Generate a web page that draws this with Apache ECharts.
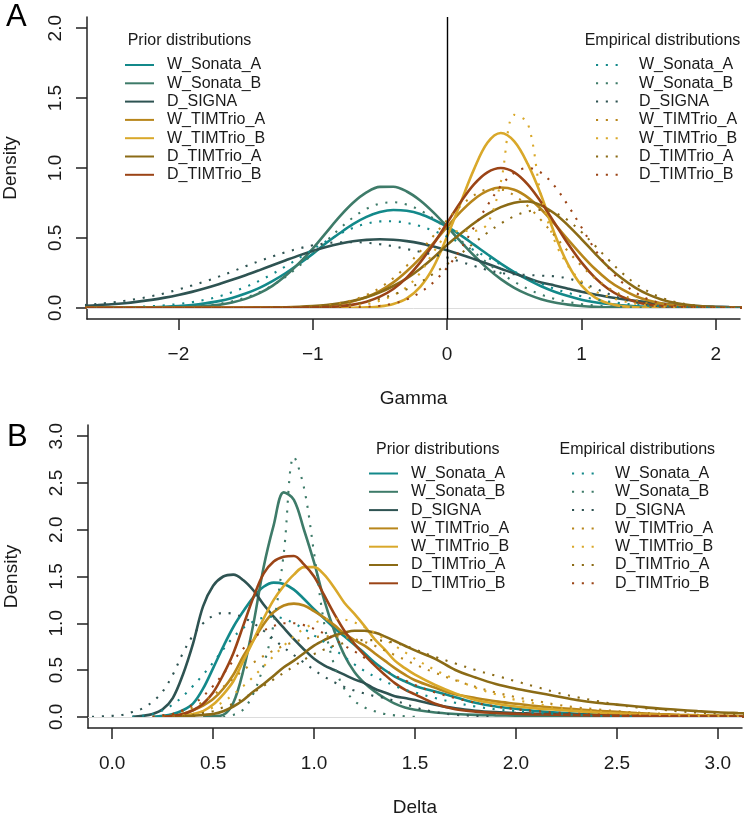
<!DOCTYPE html>
<html>
<head>
<meta charset="utf-8">
<title>Prior and empirical distributions</title>
<script src="https://cdn.jsdelivr.net/npm/echarts@6/dist/echarts.min.js"></script>
<style>
  html, body { margin: 0; padding: 0; background: #fff; }
  #main { width: 744px; height: 815px; }
</style>
</head>
<body>
<div id="main"></div>
<script>
// ---- data ----
var groups = ['W_Sonata_A', 'W_Sonata_B', 'D_SIGNA', 'W_TIMTrio_A', 'W_TIMTrio_B', 'D_TIMTrio_A', 'D_TIMTrio_B'];
var groupColors = ['#13898a', '#3e7b69', '#2e5352', '#b8861b', '#d9a82a', '#8b6b16', '#9b4416'];

var gammaTicks = [-2, -1, 0, 1, 2];
var gammaDensityTicks = [0, 0.5, 1, 1.5, 2];
var deltaTicks = [0, 0.5, 1, 1.5, 2, 2.5, 3];
var deltaDensityTicks = [0, 0.5, 1, 1.5, 2, 2.5, 3];

// panel A, Gamma grid
var gammaX = [-2.7, -2.6, -2.5, -2.4, -2.3, -2.2, -2.1, -2.0, -1.9, -1.8, -1.7,
  -1.6, -1.5, -1.4, -1.3, -1.2, -1.1, -1.0, -0.9, -0.8, -0.7,
  -0.6, -0.5, -0.4, -0.3, -0.2, -0.1, 0, 0.1, 0.2, 0.3,
  0.4, 0.5, 0.6, 0.7, 0.8, 0.9, 1.0, 1.1, 1.2, 1.3,
  1.4, 1.5, 1.6, 1.7, 1.8, 1.9, 2.0, 2.1, 2.2];

var gammaPrior = {
  W_Sonata_A: [0, 0.001, 0.001, 0.001, 0.002, 0.004, 0.007, 0.012, 0.020, 0.032, 0.048,
    0.071, 0.102, 0.141, 0.191, 0.249, 0.316, 0.386, 0.463, 0.533, 0.598,
    0.650, 0.685, 0.700, 0.694, 0.671, 0.630, 0.580, 0.520, 0.452, 0.383,
    0.316, 0.255, 0.201, 0.154, 0.115, 0.084, 0.058, 0.040, 0.027, 0.018,
    0.011, 0.007, 0.005, 0.003, 0.002, 0.001, 0.001, 0, 0],
  W_Sonata_B: [0, 0, 0, 0, 0, 0.001, 0.002, 0.003, 0.006, 0.012, 0.021,
    0.038, 0.064, 0.103, 0.157, 0.231, 0.322, 0.424, 0.538, 0.652, 0.751,
    0.825, 0.865, 0.866, 0.832, 0.768, 0.681, 0.580, 0.475, 0.374, 0.282,
    0.205, 0.143, 0.096, 0.062, 0.038, 0.023, 0.013, 0.007, 0.004, 0.002,
    0.001, 0, 0, 0, 0, 0, 0, 0, 0],
  D_SIGNA: [0.014, 0.019, 0.025, 0.033, 0.044, 0.057, 0.073, 0.092, 0.114, 0.140, 0.169,
    0.200, 0.233, 0.268, 0.304, 0.340, 0.375, 0.407, 0.435, 0.458, 0.476,
    0.486, 0.490, 0.487, 0.477, 0.461, 0.438, 0.412, 0.382, 0.349, 0.315,
    0.280, 0.245, 0.213, 0.181, 0.160, 0.137, 0.115, 0.095, 0.078, 0.063,
    0.050, 0.039, 0.030, 0.022, 0.016, 0.011, 0.008, 0.005, 0.003],
  W_TIMTrio_A: [0, 0, 0, 0, 0, 0, 0, 0, 0, 0, 0,
    0, 0, 0, 0, 0.002, 0.004, 0.008, 0.015, 0.027, 0.047,
    0.077, 0.121, 0.182, 0.262, 0.356, 0.465, 0.578, 0.686, 0.775, 0.836,
    0.860, 0.844, 0.790, 0.705, 0.600, 0.488, 0.379, 0.279, 0.196, 0.133,
    0.085, 0.052, 0.030, 0.017, 0.009, 0.005, 0.002, 0.001, 0],
  W_TIMTrio_B: [0, 0, 0, 0, 0, 0, 0, 0, 0, 0, 0,
    0, 0, 0, 0, 0, 0, 0, 0, 0, 0.001,
    0.003, 0.010, 0.028, 0.068, 0.150, 0.295, 0.510, 0.750, 0.990, 1.180,
    1.250, 1.190, 1.029, 0.805, 0.530, 0.310, 0.160, 0.075, 0.032, 0.012,
    0.004, 0.001, 0, 0, 0, 0, 0, 0, 0],
  D_TIMTrio_A: [0, 0, 0, 0, 0, 0, 0, 0, 0, 0, 0,
    0.001, 0.001, 0.002, 0.003, 0.004, 0.007, 0.012, 0.020, 0.033, 0.050,
    0.075, 0.111, 0.156, 0.211, 0.280, 0.360, 0.450, 0.530, 0.605, 0.670,
    0.720, 0.752, 0.760, 0.733, 0.674, 0.590, 0.492, 0.390, 0.293, 0.211,
    0.145, 0.094, 0.058, 0.034, 0.019, 0.010, 0.005, 0.002, 0.001],
  D_TIMTrio_B: [0, 0, 0, 0, 0, 0, 0, 0, 0, 0, 0,
    0, 0, 0, 0, 0, 0.001, 0.002, 0.005, 0.011, 0.023,
    0.044, 0.080, 0.135, 0.216, 0.325, 0.458, 0.607, 0.755, 0.883, 0.969,
    1.000, 0.969, 0.883, 0.755, 0.607, 0.458, 0.325, 0.216, 0.135, 0.080,
    0.044, 0.023, 0.011, 0.005, 0.002, 0.001, 0, 0, 0]
};

var gammaEmp = {
  W_Sonata_A: [0.001, 0.002, 0.003, 0.004, 0.007, 0.012, 0.018, 0.027, 0.040, 0.058, 0.081,
    0.112, 0.149, 0.192, 0.242, 0.298, 0.357, 0.418, 0.476, 0.528, 0.572,
    0.602, 0.618, 0.619, 0.607, 0.584, 0.551, 0.510, 0.463, 0.412, 0.361,
    0.309, 0.259, 0.213, 0.172, 0.136, 0.107, 0.082, 0.061, 0.045, 0.032,
    0.023, 0.016, 0.011, 0.007, 0.004, 0.003, 0.002, 0.001, 0.001],
  W_Sonata_B: [0, 0, 0, 0, 0, 0.001, 0.003, 0.005, 0.009, 0.017, 0.028,
    0.047, 0.073, 0.110, 0.160, 0.223, 0.300, 0.385, 0.476, 0.566, 0.646,
    0.708, 0.745, 0.755, 0.738, 0.697, 0.638, 0.564, 0.483, 0.400, 0.320,
    0.248, 0.187, 0.136, 0.094, 0.064, 0.042, 0.027, 0.017, 0.010, 0.006,
    0.003, 0.002, 0.001, 0, 0, 0, 0, 0, 0],
  D_SIGNA: [0.020, 0.028, 0.038, 0.050, 0.065, 0.083, 0.105, 0.131, 0.159, 0.189, 0.223,
    0.259, 0.297, 0.333, 0.367, 0.398, 0.425, 0.447, 0.462, 0.469, 0.470,
    0.465, 0.455, 0.440, 0.420, 0.400, 0.380, 0.360, 0.330, 0.300, 0.270,
    0.250, 0.240, 0.235, 0.230, 0.225, 0.210, 0.180, 0.140, 0.100, 0.065,
    0.040, 0.022, 0.012, 0.006, 0.003, 0.001, 0, 0, 0],
  W_TIMTrio_A: [0, 0, 0, 0, 0, 0, 0, 0, 0, 0, 0,
    0, 0, 0, 0, 0.002, 0.005, 0.009, 0.018, 0.032, 0.056,
    0.092, 0.143, 0.212, 0.301, 0.404, 0.516, 0.627, 0.728, 0.804, 0.845,
    0.845, 0.804, 0.728, 0.627, 0.516, 0.404, 0.301, 0.212, 0.143, 0.092,
    0.056, 0.032, 0.018, 0.009, 0.005, 0.002, 0.001, 0, 0],
  W_TIMTrio_B: [0, 0, 0, 0, 0, 0, 0, 0, 0, 0, 0,
    0, 0, 0, 0, 0, 0, 0, 0.002, 0.005, 0.012,
    0.025, 0.050, 0.090, 0.150, 0.250, 0.400, 0.520, 0.550, 0.550, 0.600,
    0.900, 1.380, 1.320, 0.800, 0.480, 0.300, 0.190, 0.120, 0.080, 0.050,
    0.030, 0.015, 0.008, 0.004, 0.002, 0.001, 0, 0, 0],
  D_TIMTrio_A: [0, 0, 0, 0, 0, 0, 0, 0, 0, 0, 0,
    0, 0, 0, 0, 0.002, 0.003, 0.006, 0.010, 0.017, 0.027,
    0.043, 0.065, 0.095, 0.133, 0.182, 0.245, 0.312, 0.386, 0.463, 0.537,
    0.603, 0.655, 0.689, 0.700, 0.680, 0.625, 0.543, 0.445, 0.345, 0.252,
    0.174, 0.115, 0.071, 0.041, 0.023, 0.012, 0.006, 0.003, 0.001],
  D_TIMTrio_B: [0, 0, 0, 0, 0, 0, 0, 0, 0, 0, 0,
    0, 0, 0, 0, 0, 0, 0, 0, 0.001, 0.003,
    0.007, 0.015, 0.031, 0.060, 0.110, 0.184, 0.287, 0.418, 0.576, 0.732,
    0.871, 0.966, 1.000, 0.966, 0.871, 0.732, 0.576, 0.418, 0.287, 0.184,
    0.110, 0.060, 0.031, 0.015, 0.007, 0.003, 0.001, 0, 0]
};

// panel B, Delta grid
var deltaX = [-0.1, -0.05,
  0, 0.05, 0.1, 0.15, 0.2, 0.25, 0.3, 0.35, 0.4, 0.45,
  0.5, 0.55, 0.6, 0.65, 0.7, 0.75, 0.8, 0.85, 0.9, 0.95,
  1.0, 1.05, 1.1, 1.15, 1.2, 1.25, 1.3, 1.35, 1.4, 1.45,
  1.5,
  1.6, 1.7, 1.8, 1.9, 2.0, 2.1, 2.2, 2.3, 2.4, 2.5,
  2.6, 2.7, 2.8, 2.9, 3.0, 3.1, 3.2];

var deltaPrior = {
  W_Sonata_A: [null, null,
    null, null, null, null, 0, 0.01, 0.03, 0.07, 0.14, 0.30,
    0.52, 0.75, 0.96, 1.13, 1.28, 1.39, 1.435, 1.42, 1.36, 1.26,
    1.15, 1.05, 0.95, 0.86, 0.77, 0.68, 0.58, 0.50, 0.43, 0.38,
    0.33,
    0.27, 0.21, 0.15, 0.11, 0.085, 0.062, 0.045, 0.033, 0.025, 0.018,
    0.014, 0.010, 0.008, 0.006, 0.005, 0.004, 0.003],
  W_Sonata_B: [null, null,
    null, null, null, null, null, null, null, null, null, 0,
    0.005, 0.02, 0.15, 0.5, 1.0, 1.6, 2.05, 2.4, 2.32, 2.0,
    1.65, 1.25, 0.92, 0.66, 0.48, 0.36, 0.27, 0.20, 0.14, 0.10,
    0.075,
    0.045, 0.03, 0.02, 0.015, 0.012, 0.01, 0.008, 0.007, 0.006, 0.005,
    0.004, 0.004, 0.003, 0.003, 0.003, 0.002, 0.002],
  D_SIGNA: [null, null,
    null, null, 0, 0.01, 0.03, 0.08, 0.2, 0.45, 0.78, 1.18,
    1.4, 1.5, 1.52, 1.46, 1.35, 1.2, 1.07, 0.95, 0.83, 0.72,
    0.62, 0.55, 0.5, 0.45, 0.4, 0.36, 0.3, 0.26, 0.22, 0.2,
    0.18,
    0.13, 0.09, 0.065, 0.05, 0.04, 0.033, 0.027, 0.022, 0.018, 0.015,
    0.012, 0.010, 0.008, 0.007, 0.006, 0.005, 0.004],
  W_TIMTrio_A: [null, null,
    null, null, null, null, null, 0, 0.01, 0.03, 0.07, 0.12,
    0.19, 0.3, 0.45, 0.65, 0.82, 0.99, 1.12, 1.19, 1.21, 1.19,
    1.13, 1.06, 0.98, 0.89, 0.82, 0.76, 0.68, 0.60, 0.52, 0.45,
    0.39,
    0.31, 0.24, 0.2, 0.165, 0.14, 0.115, 0.095, 0.08, 0.065, 0.052,
    0.04, 0.03, 0.022, 0.016, 0.012, 0.009, 0.007],
  W_TIMTrio_B: [null, null,
    null, null, null, null, null, null, 0, 0.01, 0.03, 0.06,
    0.13, 0.24, 0.38, 0.6, 0.82, 1.05, 1.25, 1.4, 1.52, 1.6,
    1.6, 1.52, 1.38, 1.22, 1.1, 0.97, 0.83, 0.72, 0.6, 0.52,
    0.45,
    0.34, 0.25, 0.18, 0.14, 0.11, 0.09, 0.075, 0.06, 0.045, 0.035,
    0.027, 0.02, 0.015, 0.012, 0.009, 0.007, 0.005],
  D_TIMTrio_A: [null, null,
    null, null, null, null, null, null, 0, 0.005, 0.01, 0.02,
    0.03, 0.06, 0.11, 0.18, 0.27, 0.35, 0.44, 0.53, 0.6, 0.68,
    0.76, 0.82, 0.87, 0.9, 0.92, 0.92, 0.9, 0.86, 0.81, 0.76,
    0.71,
    0.62, 0.5, 0.42, 0.35, 0.3, 0.26, 0.22, 0.18, 0.15, 0.13,
    0.11, 0.09, 0.075, 0.06, 0.048, 0.04, 0.033],
  D_TIMTrio_B: [null, null,
    null, null, null, null, null, 0, 0.01, 0.03, 0.07, 0.14,
    0.26, 0.45, 0.68, 0.98, 1.28, 1.53, 1.66, 1.71, 1.72, 1.63,
    1.5, 1.3, 1.1, 0.92, 0.78, 0.66, 0.55, 0.45, 0.36, 0.29,
    0.24,
    0.14, 0.08, 0.055, 0.04, 0.032, 0.026, 0.022, 0.018, 0.015, 0.012,
    0.01, 0.008, 0.007, 0.006, 0.005, 0.004, 0.003]
};

var deltaEmp = {
  W_Sonata_A: [null, null,
    null, null, 0, 0.01, 0.03, 0.07, 0.13, 0.22, 0.33, 0.45,
    0.58, 0.72, 0.85, 0.95, 1.02, 1.06, 1.07, 1.05, 1.0, 0.94,
    0.87, 0.8, 0.72, 0.64, 0.56, 0.49, 0.43, 0.38, 0.33, 0.29,
    0.26,
    0.2, 0.15, 0.11, 0.08, 0.06, 0.04, 0.03, 0.02, 0.01, 0.005,
    0, null, null, null, null, null, null],
  W_Sonata_B: [null, null,
    null, null, null, null, null, null, null, null, null, null,
    null, 0, 0.02, 0.08, 0.25, 0.55, 1.0, 1.75, 2.78, 2.45,
    1.75, 1.0, 0.55, 0.3, 0.17, 0.1, 0.06, 0.03, 0.015, 0.005,
    0,
    null, null, null, null, null, null, null, null, null, null,
    null, null, null, null, null, null, null],
  D_SIGNA: [0, 0.005,
    0.01, 0.02, 0.05, 0.09, 0.16, 0.27, 0.45, 0.68, 0.87, 1.0,
    1.08, 1.11, 1.1, 1.06, 1.0, 0.92, 0.83, 0.74, 0.66, 0.58,
    0.5, 0.43, 0.37, 0.32, 0.28, 0.25, 0.22, 0.2, 0.17, 0.14,
    0.1,
    0.05, 0.02, 0.01, 0, null, null, null, null, null, null,
    null, null, null, null, null, null, null],
  W_TIMTrio_A: [null, null,
    null, null, null, null, 0, 0.01, 0.03, 0.06, 0.1, 0.16,
    0.23, 0.32, 0.41, 0.5, 0.58, 0.65, 0.71, 0.76, 0.8, 0.83,
    0.85, 0.86, 0.86, 0.85, 0.83, 0.8, 0.76, 0.71, 0.66, 0.61,
    0.56,
    0.47, 0.39, 0.32, 0.26, 0.21, 0.17, 0.13, 0.1, 0.08, 0.06,
    0.045, 0.035, 0.025, 0.02, 0.015, 0.01, 0.008],
  W_TIMTrio_B: [null, null,
    null, null, null, null, null, null, 0, 0.015, 0.03, 0.06,
    0.1, 0.16, 0.24, 0.33, 0.43, 0.54, 0.65, 0.76, 0.86, 0.94,
    1.0, 1.04, 1.05, 1.04, 1.01, 0.96, 0.9, 0.83, 0.76, 0.69,
    0.62,
    0.5, 0.4, 0.31, 0.24, 0.18, 0.14, 0.1, 0.075, 0.055, 0.04,
    0.03, 0.02, 0.015, 0.01, 0.007, 0.005, 0.004],
  D_TIMTrio_A: [null, null,
    null, null, null, null, null, null, 0, 0.01, 0.02, 0.04,
    0.06, 0.1, 0.14, 0.2, 0.26, 0.33, 0.4, 0.47, 0.54, 0.61,
    0.67, 0.72, 0.76, 0.79, 0.81, 0.82, 0.82, 0.81, 0.79, 0.76,
    0.72,
    0.64, 0.57, 0.5, 0.44, 0.38, 0.32, 0.26, 0.21, 0.17, 0.13,
    0.1, 0.08, 0.06, 0.045, 0.035, 0.025, 0.02],
  D_TIMTrio_B: [null, null,
    null, null, null, null, 0, 0.015, 0.03, 0.07, 0.13, 0.22,
    0.33, 0.46, 0.6, 0.73, 0.84, 0.92, 0.97, 1.0, 1.0, 0.98,
    0.94, 0.89, 0.83, 0.76, 0.7, 0.63, 0.56, 0.5, 0.44, 0.39,
    0.34,
    0.26, 0.2, 0.15, 0.11, 0.08, 0.06, 0.045, 0.033, 0.024, 0.017,
    0.012, 0.008, 0.005, 0.003, 0.002, 0.001, 0.001]
};

// ---- chart ----
var FONT = "'Liberation Sans', Helvetica, Arial, sans-serif";
var INK = '#1a1a1a';

var chartDom = document.getElementById('main');
var myChart = echarts.init(chartDom, null, { renderer: 'canvas' });

function pairs(xs, ys) {
  var out = [];
  for (var i = 0; i < xs.length; i++) {
    if (ys[i] !== null && ys[i] !== undefined) out.push([xs[i], ys[i]]);
  }
  return out;
}

function minusFmt(v) {
  return v < 0 ? '\u2212' + Math.abs(v) : String(v);
}

function makeSeries(panel, kind, xs, table, gi) {
  return groups.map(function (g, k) {
    return {
      name: panel + '|' + kind + '|' + g,
      type: 'line',
      xAxisIndex: gi,
      yAxisIndex: gi,
      data: pairs(xs, table[g]),
      smooth: 0.35,
      showSymbol: false,
      symbol: 'none',
      silent: true,
      color: groupColors[k],
      lineStyle: kind === 'prior'
        ? { color: groupColors[k], width: 2.6 }
        : { color: groupColors[k], width: 2.1, type: [2.1, 7.7], cap: 'butt' },
      z: kind === 'prior' ? 3 : 4
    };
  });
}

function refLines(gi, withZero) {
  var data = [{ yAxis: 0, lineStyle: { color: '#dcdcdc', width: 1, type: 'solid' } }];
  if (withZero) data.push({ xAxis: 0, lineStyle: { color: '#000', width: 1.4, type: 'solid' } });
  return {
    name: 'ref' + gi,
    type: 'line',
    xAxisIndex: gi,
    yAxisIndex: gi,
    data: [],
    silent: true,
    z: 1,
    markLine: {
      silent: true,
      symbol: ['none', 'none'],
      animation: false,
      label: { show: false },
      data: data
    }
  };
}

function legendFor(panel, kind, left, top) {
  return {
    orient: 'vertical',
    left: left,
    top: top,
    itemWidth: 29,
    itemHeight: 14,
    itemGap: 2.3,
    selectedMode: false,
    padding: 0,
    itemStyle: { opacity: 0 },
    textStyle: { fontSize: 16, fontFamily: FONT, color: INK, padding: [0, 0, 0, kind === 'prior' ? 8 : 9] },
    formatter: function (name) { return name.split('|')[2]; },
    data: groups.map(function (g) { return panel + '|' + kind + '|' + g; })
  };
}

function axisCommon() {
  return {
    axisLine: { show: true, onZero: false, lineStyle: { color: '#222', width: 1.5 } },
    splitLine: { show: false }
  };
}

var xA = Object.assign(axisCommon(), {
  type: 'value', gridIndex: 0, min: -2.68, max: 2.18,
  axisTick: { show: true, customValues: gammaTicks, length: 11, lineStyle: { color: '#222', width: 1.5 } },
  axisLabel: { customValues: gammaTicks, margin: 26, fontSize: 19, fontFamily: FONT, color: INK, formatter: minusFmt },
  name: 'Gamma', nameLocation: 'middle', nameGap: 70,
  nameTextStyle: { fontSize: 19, fontFamily: FONT, color: INK }
});
var yA = Object.assign(axisCommon(), {
  type: 'value', gridIndex: 0, min: -0.08, max: 2.08,
  axisTick: { show: true, customValues: gammaDensityTicks, length: 11, lineStyle: { color: '#222', width: 1.5 } },
  axisLabel: { customValues: gammaDensityTicks, rotate: 90, margin: 22, fontSize: 19, fontFamily: FONT, color: INK,
    formatter: function (v) { return v.toFixed(1); } },
  name: 'Density', nameLocation: 'middle', nameGap: 67,
  nameTextStyle: { fontSize: 19, fontFamily: FONT, color: INK }
});
var xB = Object.assign(axisCommon(), {
  type: 'value', gridIndex: 1, min: -0.12, max: 3.12,
  axisTick: { show: true, customValues: deltaTicks, length: 11, lineStyle: { color: '#222', width: 1.5 } },
  axisLabel: { customValues: deltaTicks, margin: 26, fontSize: 19, fontFamily: FONT, color: INK,
    formatter: function (v) { return v.toFixed(1); } },
  name: 'Delta', nameLocation: 'middle', nameGap: 70,
  nameTextStyle: { fontSize: 19, fontFamily: FONT, color: INK }
});
var yB = Object.assign(axisCommon(), {
  type: 'value', gridIndex: 1, min: -0.12, max: 3.12,
  axisTick: { show: true, customValues: deltaDensityTicks, length: 11, lineStyle: { color: '#222', width: 1.5 } },
  axisLabel: { customValues: deltaDensityTicks, rotate: 90, margin: 22, fontSize: 19, fontFamily: FONT, color: INK,
    formatter: function (v) { return v.toFixed(1); } },
  name: 'Density', nameLocation: 'middle', nameGap: 67,
  nameTextStyle: { fontSize: 19, fontFamily: FONT, color: INK }
});

var option = {
  backgroundColor: '#fff',
  animation: false,
  grid: [
    { left: 87, top: 17, width: 653, height: 302, outerBoundsMode: 'none', containLabel: false },
    { left: 88, top: 425, width: 654, height: 303, outerBoundsMode: 'none', containLabel: false }
  ],
  xAxis: [xA, xB],
  yAxis: [yA, yB],
  legend: [
    legendFor('A', 'prior', 124, 57),
    legendFor('A', 'emp', 595, 57),
    legendFor('B', 'prior', 368, 465.5),
    legendFor('B', 'emp', 571, 465.5)
  ],
  graphic: [
    { type: 'text', left: 6, top: 2, style: { text: 'A', fontSize: 31, fontFamily: FONT, fill: '#000' } },
    { type: 'text', left: 7, top: 422, style: { text: 'B', fontSize: 31, fontFamily: FONT, fill: '#000' } },
    { type: 'text', x: 189.5, y: 40.7, style: { text: 'Prior distributions', fontSize: 16, fontFamily: FONT, fill: INK, align: 'center', verticalAlign: 'middle' } },
    { type: 'text', x: 662.5, y: 40.7, style: { text: 'Empirical distributions', fontSize: 16, fontFamily: FONT, fill: INK, align: 'center', verticalAlign: 'middle' } },
    { type: 'text', x: 437.8, y: 450, style: { text: 'Prior distributions', fontSize: 16, fontFamily: FONT, fill: INK, align: 'center', verticalAlign: 'middle' } },
    { type: 'text', x: 637.3, y: 450, style: { text: 'Empirical distributions', fontSize: 16, fontFamily: FONT, fill: INK, align: 'center', verticalAlign: 'middle' } }
  ],
  series: [refLines(0, true), refLines(1, false)]
    .concat(makeSeries('A', 'prior', gammaX, gammaPrior, 0))
    .concat(makeSeries('A', 'emp', gammaX, gammaEmp, 0))
    .concat(makeSeries('B', 'prior', deltaX, deltaPrior, 1))
    .concat(makeSeries('B', 'emp', deltaX, deltaEmp, 1))
};

if (option && typeof option === 'object') {
  myChart.setOption(option);
}

window.addEventListener('resize', myChart.resize);
</script>
</body>
</html>
